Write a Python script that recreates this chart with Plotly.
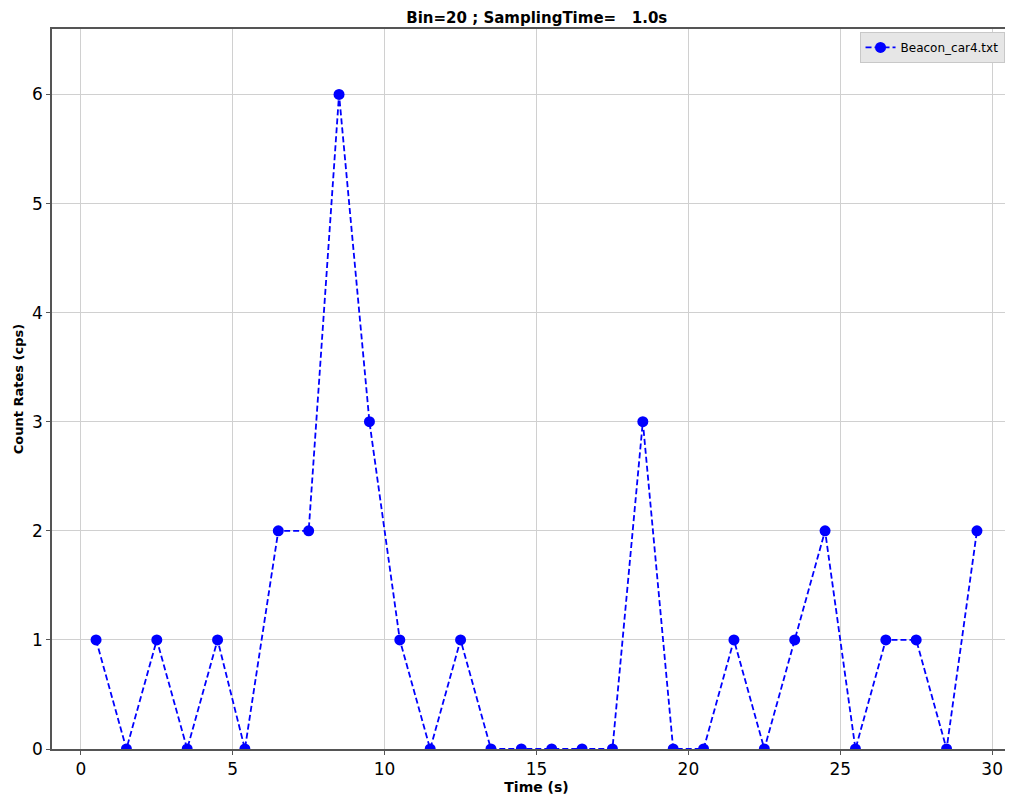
import plotly.graph_objects as go

time_s = [0.5, 1.5, 2.5, 3.5, 4.5, 5.4, 6.5, 7.5, 8.5, 9.5,
          10.5, 11.5, 12.5, 13.5, 14.5, 15.5, 16.5, 17.5, 18.5, 19.5,
          20.5, 21.5, 22.5, 23.5, 24.5, 25.5, 26.5, 27.5, 28.5, 29.5]
count_rates = [1, 0, 1, 0, 1, 0, 2, 2, 6, 3,
               1, 0, 1, 0, 0, 0, 0, 0, 3, 0,
               0, 1, 0, 1, 2, 0, 1, 1, 0, 2]
series_name = "Beacon_car4.txt"
x_ticks = [0, 5, 10, 15, 20, 25, 30]
y_ticks = [0, 1, 2, 3, 4, 5, 6]

fig = go.Figure()
fig.add_trace(go.Scatter(
    x=time_s, y=count_rates, mode="lines+markers", name=series_name,
    line=dict(color="#0000ff", width=1.8, dash="6px,3px"),
    marker=dict(color="#0000ff", size=11, symbol="circle"),
))

axis_common = dict(
    showgrid=True, gridcolor="#d0d0d0", gridwidth=1,
    showline=True, linecolor="#555555", linewidth=1.5,
    ticks="outside", ticklen=4, tickcolor="#555555",
    tickfont=dict(family="DejaVu Sans", size=17, color="#000000"),
    zeroline=False, automargin=False,
)

fig.update_layout(
    width=1013, height=797,
    margin=dict(l=44, r=0, t=21, b=56),
    paper_bgcolor="white", plot_bgcolor="white",
    title=dict(text="<b>Bin=20 ; SamplingTime=\u00a0\u00a0\u00a01.0s</b>",
               x=0.522, xanchor="center", y=0.988, yanchor="middle",
               font=dict(family="DejaVu Sans", size=15, color="#000000")),
    xaxis=dict(range=[-0.95, 30.95], tickvals=x_ticks, mirror=True,
               title=dict(text="<b>Time (s)</b>", standoff=2,
                          font=dict(family="DejaVu Sans", size=14, color="#000000")),
               **axis_common),
    yaxis=dict(range=[0, 6.6], tickvals=y_ticks,
               title=dict(text="<b>Count Rates (cps)</b>", standoff=5,
                          font=dict(family="DejaVu Sans", size=13, color="#000000")),
               **axis_common),
    showlegend=True,
    legend=dict(x=0.983, y=0.996, xanchor="right", yanchor="top",
                bgcolor="#e6e6e6", bordercolor="#c8c8c8", borderwidth=1,
                font=dict(family="DejaVu Sans", size=12, color="#000000")),
)

fig.write_html("out.html")
